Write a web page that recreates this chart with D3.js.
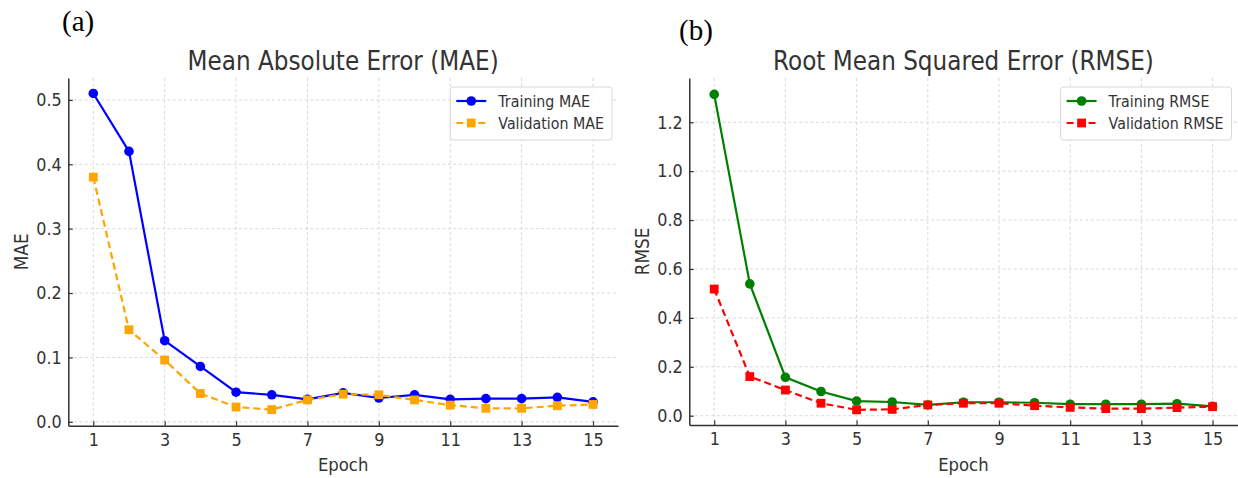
<!DOCTYPE html>
<html>
<head>
<meta charset="utf-8">
<script src="https://cdn.jsdelivr.net/npm/d3@7"></script>
<style>
    body { margin: 0; background: #fff; }
    svg { display: block; font-family: "DejaVu Sans", sans-serif; }
    .grid line { stroke: #cfcfcf; stroke-width: 0.8; stroke-dasharray: 3,2.5; }
    .axis .domain { stroke: #333; stroke-width: 1.5; }
    .axis .tick line { stroke: #333; stroke-width: 1.2; }
</style>
</head>
<body>
<svg id="chart" width="1238" height="478"></svg>
<script>
// data
const epochs = [1, 2, 3, 4, 5, 6, 7, 8, 9, 10, 11, 12, 13, 14, 15];
const epochTicks = [1, 3, 5, 7, 9, 11, 13, 15];

const maeTrain = [0.510, 0.420, 0.126, 0.086, 0.046, 0.042, 0.035, 0.045, 0.037, 0.042, 0.035, 0.036, 0.036, 0.038, 0.031];
const maeVal = [0.380, 0.143, 0.096, 0.044, 0.023, 0.019, 0.034, 0.043, 0.042, 0.034, 0.026, 0.021, 0.021, 0.025, 0.027];
const maeTicks = [0.0, 0.1, 0.2, 0.3, 0.4, 0.5];

const rmseTrain = [1.314, 0.539, 0.157, 0.099, 0.060, 0.056, 0.044, 0.055, 0.055, 0.053, 0.047, 0.047, 0.047, 0.049, 0.038];
const rmseVal = [0.518, 0.160, 0.105, 0.051, 0.024, 0.026, 0.044, 0.051, 0.051, 0.041, 0.034, 0.029, 0.029, 0.033, 0.037];
const rmseTicks = [0.0, 0.2, 0.4, 0.6, 0.8, 1.0, 1.2];

const svg = d3.select("#chart");
const squeeze = 0.89;   // text in the picture is a bit narrow

function addText(g, x, y, str, size, anchor, rotate) {
    return g.append("text")
        .attr("transform", "translate(" + x + "," + y + ")" + (rotate ? " rotate(-90)" : "") + " scale(" + squeeze + ",1)")
        .attr("text-anchor", anchor || "middle")
        .attr("font-size", size)
        .attr("fill", "#333")
        .text(str);
}

function drawPanel(cfg) {
    const g = svg.append("g");
    const x = d3.scaleLinear().domain([0.3, 15.7]).range([cfg.left, cfg.right]);
    const y = d3.scaleLinear().domain(cfg.yDomain).range([cfg.bottom, cfg.top]);

    // grid
    const grid = g.append("g").attr("class", "grid");
    grid.selectAll(".gx").data(epochTicks).join("line")
        .attr("x1", d => x(d)).attr("x2", d => x(d))
        .attr("y1", cfg.top).attr("y2", cfg.bottom);
    grid.selectAll(".gy").data(cfg.yTicks).join("line")
        .attr("x1", cfg.left).attr("x2", cfg.right)
        .attr("y1", d => y(d)).attr("y2", d => y(d));

    // axes
    const xAxis = g.append("g")
        .attr("class", "axis")
        .attr("transform", "translate(0," + cfg.bottom + ")")
        .call(d3.axisBottom(x).tickValues(epochTicks).tickSizeInner(-4.5).tickSizeOuter(0).tickPadding(7.5));
    xAxis.selectAll("text")
        .attr("font-size", 18).attr("fill", "#333")
        .attr("transform", "scale(" + squeeze + ",1)");

    const yAxis = g.append("g")
        .attr("class", "axis")
        .attr("transform", "translate(" + cfg.left + ",0)")
        .call(d3.axisLeft(y).tickValues(cfg.yTicks).tickFormat(d3.format(".1f")).tickSizeInner(-4.5).tickSizeOuter(0).tickPadding(6.6));
    yAxis.selectAll("text")
        .attr("font-size", 18).attr("fill", "#333")
        .attr("x", -6.6 / squeeze)
        .attr("transform", "scale(" + squeeze + ",1)");
    g.selectAll(".axis").attr("font-family", null);

    // series
    cfg.series.forEach(function(s) {
        const line = d3.line()
            .x((d, i) => x(epochs[i]))
            .y(d => y(d));
        g.append("path")
            .datum(s.values)
            .attr("fill", "none")
            .attr("stroke", s.color)
            .attr("stroke-width", 2.2)
            .attr("stroke-dasharray", s.dashed ? "7,4" : null)
            .attr("d", line);
        const pts = g.append("g").attr("fill", s.color);
        if (s.marker === "circle") {
            pts.selectAll("circle").data(s.values).join("circle")
                .attr("cx", (d, i) => x(epochs[i]))
                .attr("cy", d => y(d))
                .attr("r", 4.8);
        } else {
            pts.selectAll("rect").data(s.values).join("rect")
                .attr("x", (d, i) => x(epochs[i]) - 4.4)
                .attr("y", d => y(d) - 4.4)
                .attr("width", 8.8)
                .attr("height", 8.8);
        }
    });

    // titles and labels
    const mid = (cfg.left + cfg.right) / 2;
    addText(g, mid, 70, cfg.title, 26);
    addText(g, mid, 471, "Epoch", 18.5);
    addText(g, cfg.yLabelX, (cfg.top + cfg.bottom) / 2, cfg.yLabel, 19, "middle", true);

    g.append("text")
        .attr("x", cfg.tagX).attr("y", cfg.tagY)
        .attr("font-family", "Liberation Serif, serif")
        .attr("font-size", 29)
        .attr("fill", "#000")
        .text(cfg.tag);

    // legend
    const leg = g.append("g");
    const box = leg.append("rect");
    let maxW = 0;
    cfg.series.forEach(function(s, i) {
        const ry = cfg.top + 9 + 14 + i * 22;
        const t = addText(leg, 0, ry + 5.8, s.name, 16, "start");
        maxW = Math.max(maxW, t.node().getComputedTextLength() * squeeze);
        s._t = t; s._y = ry;
    });
    const bw = 48 + maxW + 8;
    const bx = cfg.right - 6 - bw;
    const by = cfg.top + 9;
    box.attr("x", bx).attr("y", by).attr("width", bw).attr("height", 53)
        .attr("rx", 3).attr("fill", "#fff").attr("fill-opacity", 0.85)
        .attr("stroke", "#d8d8d8").attr("stroke-width", 1);
    cfg.series.forEach(function(s) {
        s._t.attr("transform", "translate(" + (bx + 48) + "," + (s._y + 5.8) + ") scale(" + squeeze + ",1)");
        leg.append("line")
            .attr("x1", bx + 6).attr("x2", bx + 36)
            .attr("y1", s._y).attr("y2", s._y)
            .attr("stroke", s.color).attr("stroke-width", 2.2)
            .attr("stroke-dasharray", s.dashed ? "7,4" : null);
        if (s.marker === "circle") {
            leg.append("circle").attr("cx", bx + 21).attr("cy", s._y).attr("r", 4.8).attr("fill", s.color);
        } else {
            leg.append("rect").attr("x", bx + 21 - 4.4).attr("y", s._y - 4.4)
                .attr("width", 8.8).attr("height", 8.8).attr("fill", s.color);
        }
    });
}

drawPanel({
    left: 68.3, right: 618, top: 78, bottom: 425.7,
    yDomain: [-0.006, 0.534], yTicks: maeTicks,
    title: "Mean Absolute Error (MAE)", yLabel: "MAE", yLabelX: 28,
    tag: "(a)", tagX: 62, tagY: 31,
    series: [
        { name: "Training MAE", values: maeTrain, color: "#0000ff", marker: "circle", dashed: false },
        { name: "Validation MAE", values: maeVal, color: "#ffa500", marker: "square", dashed: true }
    ]
});

drawPanel({
    left: 689.3, right: 1237.5, top: 78, bottom: 425,
    yDomain: [-0.038, 1.381], yTicks: rmseTicks,
    title: "Root Mean Squared Error (RMSE)", yLabel: "RMSE", yLabelX: 649,
    tag: "(b)", tagX: 679, tagY: 40,
    series: [
        { name: "Training RMSE", values: rmseTrain, color: "#008000", marker: "circle", dashed: false },
        { name: "Validation RMSE", values: rmseVal, color: "#ff0000", marker: "square", dashed: true }
    ]
});
</script>
</body>
</html>
